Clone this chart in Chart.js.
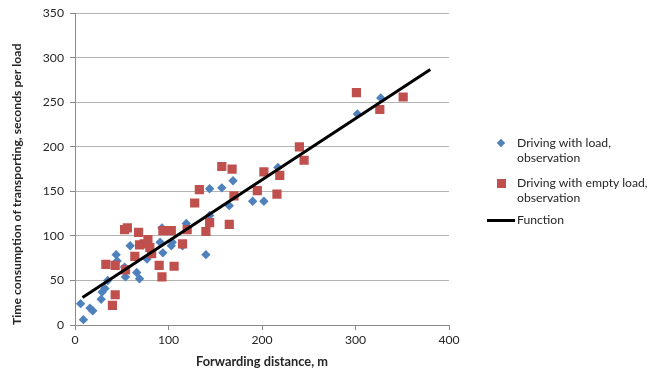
<!DOCTYPE html>
<html><head><meta charset="utf-8">
<script src="https://cdn.jsdelivr.net/npm/chart.js@4/dist/chart.umd.min.js"></script>
<style>
html,body{margin:0;padding:0;background:#fff;}
#wrap{position:relative;width:650px;height:374px;overflow:hidden;}
canvas{display:block;}
.lg{position:absolute;font-family:Lato,"Open Sans",sans-serif;font-size:12.2px;line-height:15px;color:#262626;white-space:nowrap;}
.dia{position:absolute;width:6px;height:6px;background:#4F81BD;transform:rotate(45deg);}
.sq{position:absolute;width:9px;height:9px;background:#C0504D;}
.ln{position:absolute;height:3px;background:#000;}
</style></head><body>
<div id="wrap">
<canvas id="c" width="650" height="374"></canvas>
<div class="dia" style="left:498px;top:140px;"></div>
<div class="lg" style="left:517px;top:135px;">Driving with load,<br>observation</div>
<div class="sq" style="left:497px;top:179px;"></div>
<div class="lg" style="left:517px;top:175px;">Driving with empty load,<br>observation</div>
<div class="ln" style="left:487px;top:219px;width:28px;"></div>
<div class="lg" style="left:517px;top:212px;">Function</div>
</div>
<script>
// Driving with load, observation
const loadX = [6,9,16,19,28,29,32,35,44,45,53,54,59,66,69,77,79,91,93,94,103,104,115,119,140,144,144,157,165,169,190,202,217,302,327];
const loadY = [24,6,19,16,29,37,41,50,79,72,65,54,89,59,52,74,89,93,109,81,89,93,89,114,79,123,153,154,134,162,139,139,177,237,255];
// Driving with empty load, observation
const emptyX = [33,40,43,43,53,56,54,64,68,69,74,78,80,82,90,93,94,103,106,115,120,128,133,140,144,157,168,170,165,195,202,216,219,240,245,301,326,351];
const emptyY = [68,22,34,67,107,109,62,77,104,90,91,96,87,80,67,54,106,106,66,91,107,137,152,105,115,178,175,145,113,151,172,147,168,200,185,261,242,256];
// Function
const funcX = [8,380];
const funcY = [31,287];
const xTicks = [0,100,200,300,400];
const yTicks = [0,50,100,150,200,250,300,350];

const toPts = (xs, ys) => xs.map((x,i)=>({x:x, y:ys[i]}));
const font = {family:'Lato, "Open Sans", sans-serif', size:12.2};
const tickCol = '#262626';

new Chart(document.getElementById('c'), {
  type:'scatter',
  data:{datasets:[
    {label:'Function', type:'line', data:toPts(funcX,funcY), borderColor:'#000', borderWidth:3, pointRadius:0, fill:false, order:0},
    {label:'Driving with empty load, observation', data:toPts(emptyX,emptyY), pointStyle:'rect', pointRadius:6.5, backgroundColor:'#C0504D', borderColor:'#C0504D', borderWidth:0, order:1},
    {label:'Driving with load, observation', data:toPts(loadX,loadY), pointStyle:'rectRot', pointRadius:4.7, backgroundColor:'#4F81BD', borderColor:'#4F81BD', borderWidth:0, order:2}
  ]},
  options:{
    responsive:false, animation:false, devicePixelRatio:1,
    layout:{padding:{left:0,top:9,right:201,bottom:0}},
    plugins:{legend:{display:false}, tooltip:{enabled:false}},
    scales:{
      x:{type:'linear', min:0, max:400,
        afterBuildTicks:s=>{s.ticks = xTicks.map(v=>({value:v}));},
        afterFit:s=>{s.height = 49;},
        grid:{drawOnChartArea:false, drawTicks:true, tickLength:5, color:'#898989'},
        border:{color:'#898989'},
        ticks:{color:tickCol, font:font, padding:3, maxRotation:0},
        title:{display:true, text:'Forwarding distance, m', color:tickCol, font:{family:font.family,size:12.8,weight:'bold'}, padding:{top:0,bottom:4}}
      },
      y:{type:'linear', min:0, max:350,
        afterBuildTicks:s=>{s.ticks = yTicks.map(v=>({value:v}));},
        afterFit:s=>{s.width = 75;},
        grid:{color:'#b3b3b3', drawTicks:true, tickLength:5, tickColor:'#898989'},
        border:{color:'#898989'},
        ticks:{color:tickCol, font:font, padding:6},
        title:{display:true, align:'start', text:'Time consumption of transporting, seconds per load', color:tickCol, font:{family:font.family,size:12.2,weight:'bold'}, padding:{top:10,bottom:0}}
      }
    }
  }
});
</script>
</body></html>
